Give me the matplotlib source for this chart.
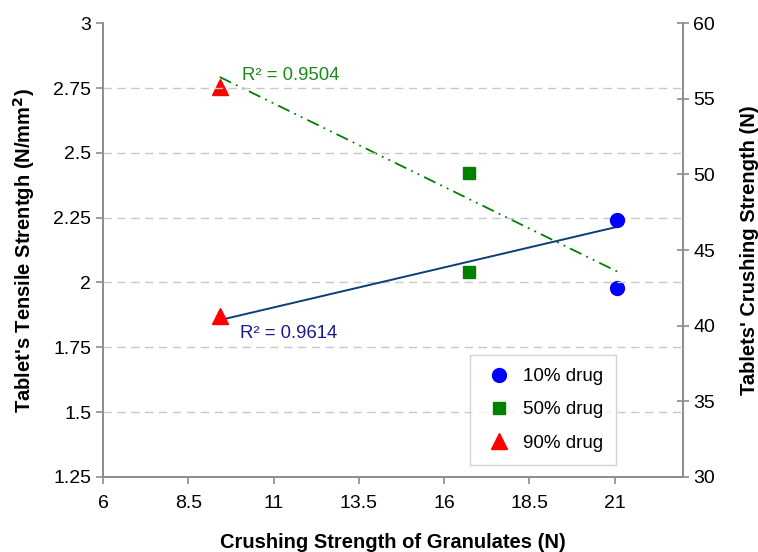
import numpy as np
import matplotlib
matplotlib.use("Agg")
import matplotlib.pyplot as plt

plt.rcParams['font.family'] = ['Liberation Sans', 'DejaVu Sans']

# data
labels = ["10% drug", "50% drug", "90% drug"]
granule_strength = [21.07, 16.73, 9.42]     # x, N
tensile_strength = [2.24, 2.04, 1.87]       # left axis, N/mm2
tablet_crushing = [42.5, 50.1, 55.8]        # right axis, N
r2_tensile = "0.9614"
r2_crushing = "0.9504"

markers = ["o", "s", "^"]
colors = ["#0000FF", "#008000", "#FF0000"]
sizes = [10, 9, 11]
grey = "#8c8c8c"

fig = plt.figure(figsize=(7.58, 5.52), dpi=100)
ax = fig.add_axes([0.136, 0.136, 0.765, 0.822])
ax2 = ax.twinx()

# trendlines (least squares over the points)
x = np.array(granule_strength)
xs = np.array([x.min(), x.max()])
p1 = np.polyfit(x, tensile_strength, 1)
p2 = np.polyfit(x, tablet_crushing, 1)
ax.plot(xs, np.polyval(p1, xs), color="#0b3d7a", lw=1.4, zorder=3)
ax2.plot(xs, np.polyval(p2, xs), color="#008000", lw=1.3,
         dashes=(7, 3, 1, 3, 1, 3), zorder=3)

for xi, yl, yr, m, c, s, lab in zip(granule_strength, tensile_strength, tablet_crushing,
                                     markers, colors, sizes, labels):
    ax.plot([xi], [yl], ls="none", marker=m, color=c, ms=s, mec=c, zorder=4, label=lab)
    ax2.plot([xi], [yr], ls="none", marker=m, color=c, ms=s, mec=c, zorder=4)

ax.text(10.0, 1.805, "R² = " + r2_tensile, color="#1a1a8c", fontsize=13.3, va="center")
ax.text(10.08, 2.80, "R² = " + r2_crushing, color="#1a8a1a", fontsize=13.3, va="center")

ax.set_xlim(6, 23)
ax.set_ylim(1.25, 3)
ax2.set_ylim(30, 60)
ax.set_xticks([6, 8.5, 11, 13.5, 16, 18.5, 21])
ax.set_xticklabels(["6", "8.5", "11", "13.5", "16", "18.5", "21"])
ax.set_yticks([1.25, 1.5, 1.75, 2, 2.25, 2.5, 2.75, 3])
ax.set_yticklabels(["1.25", "1.5", "1.75", "2", "2.25", "2.5", "2.75", "3"])
ax2.set_yticks([30, 35, 40, 45, 50, 55, 60])

for yv in [1.5, 1.75, 2, 2.25, 2.5, 2.75]:
    ax.axhline(yv, color="#c8c8c8", lw=1.0, dashes=(6, 4), zorder=1)

for a in (ax, ax2):
    a.spines["top"].set_visible(False)
    for sp in ("left", "right", "bottom"):
        a.spines[sp].set_color(grey)
        a.spines[sp].set_linewidth(1.2)
ax.tick_params(axis="both", colors=grey, labelcolor="black", labelsize=14,
               length=5, width=1.2, direction="out")
ax.tick_params(axis="x", pad=8)
ax2.tick_params(axis="y", colors=grey, labelcolor="black", labelsize=14,
                length=8, width=1.2, direction="inout")

ax.set_xlabel("Crushing Strength of Granulates (N)", fontsize=14.5, fontweight="bold", labelpad=15)
ax.set_ylabel("Tablet's Tensile Strentgh (N/mm$^\\mathbf{2}$)", fontsize=14.5,
              fontweight="bold", labelpad=12)
ax2.set_ylabel("Tablets' Crushing Strength (N)", fontsize=14.5, fontweight="bold",
               rotation=90, labelpad=18)

leg = ax.legend(loc="lower right", bbox_to_anchor=(0.885, 0.027), fontsize=13.5,
                frameon=True, fancybox=False, labelspacing=0.85, handletextpad=0.5,
                borderpad=0.7, borderaxespad=0, handlelength=1.6)
leg.get_frame().set_edgecolor("#c8c8c8")
leg.get_frame().set_linewidth(1.0)
ax.set_zorder(ax2.get_zorder() + 1)
ax.patch.set_visible(False)

fig.savefig("out.png", dpi=100)
